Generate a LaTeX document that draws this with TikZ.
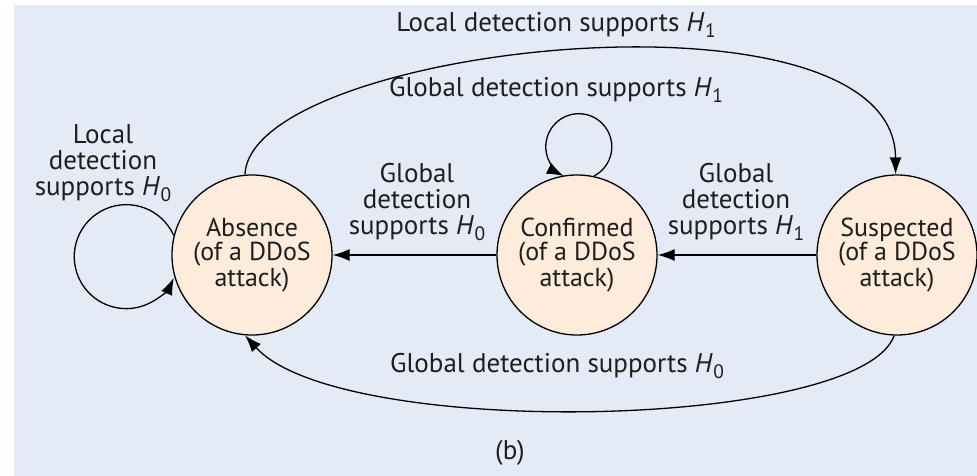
\documentclass[tikz,border=0pt]{standalone}
\usepackage{fontspec}
\usepackage{graphicx}
\setmainfont{PT Sans}
\usetikzlibrary{arrows.meta}
\definecolor{bgblue}{RGB}{228,234,246}
\definecolor{peach}{RGB}{253,235,220}
\definecolor{ink}{RGB}{30,30,30}
\newcommand\Hsub[1]{\textit{H}\kern0.5pt\raisebox{-0.4ex}{\scalebox{0.72}{#1}}}
\begin{document}
\begin{tikzpicture}[x=1pt,y=-1pt,
 state/.style={circle,draw=black,line width=1.3pt,fill=peach,minimum size=160pt,inner sep=0pt,align=center,text=ink,font=\fontsize{26}{24}\selectfont},
 lbl/.style={align=center,inner sep=0pt,text=ink,font=\fontsize{27}{26}\selectfont},
 conn/.style={draw=black,line width=1.3pt,-{Latex[length=17pt,width=12pt]}}]
\useasboundingbox (0,0) rectangle (977,476);
\fill[bgblue] (14,5) rectangle (977,476);
\node[state] (abs) at (252,255) {Absence\\(of a DDoS\\attack)};
\node[state] (conf) at (577,255) {Confirmed\\(of a DDoS\\attack)};
\node[state] (susp) at (897,255) {Suspected\\(of a DDoS\\attack)};
\draw[conn] (conf.west) -- (abs.east);
\draw[conn] (susp.west) -- (conf.east);
\draw[conn] (abs.95) .. controls (250,45) and (895,-25) .. (susp.91);
\draw[conn] (susp.268) .. controls (860,430) and (340,440) .. (abs.265);
\draw[conn] (abs.166) arc[start angle=-24, end angle=-336, radius=52];
\draw[conn] (conf.78) arc[start angle=63, end angle=-243, radius=33];
\node[lbl] (lt) at (556,25) {Local detection supports \Hsub{1}};
\node[lbl] (gt) at (556,90) {Global detection supports \Hsub{1}};
\node[lbl] (ll) at (103,163) {Local\\detection\\supports \Hsub{0}};
\node[lbl] (lm) at (417,202) {Global\\detection\\supports \Hsub{0}};
\node[lbl] (lr) at (736,202) {Global\\detection\\supports \Hsub{1}};
\node[lbl] (lb) at (557,366) {Global detection supports \Hsub{0}};
\node[lbl] (cap) at (510,453) {(b)};
\end{tikzpicture}
\end{document}
